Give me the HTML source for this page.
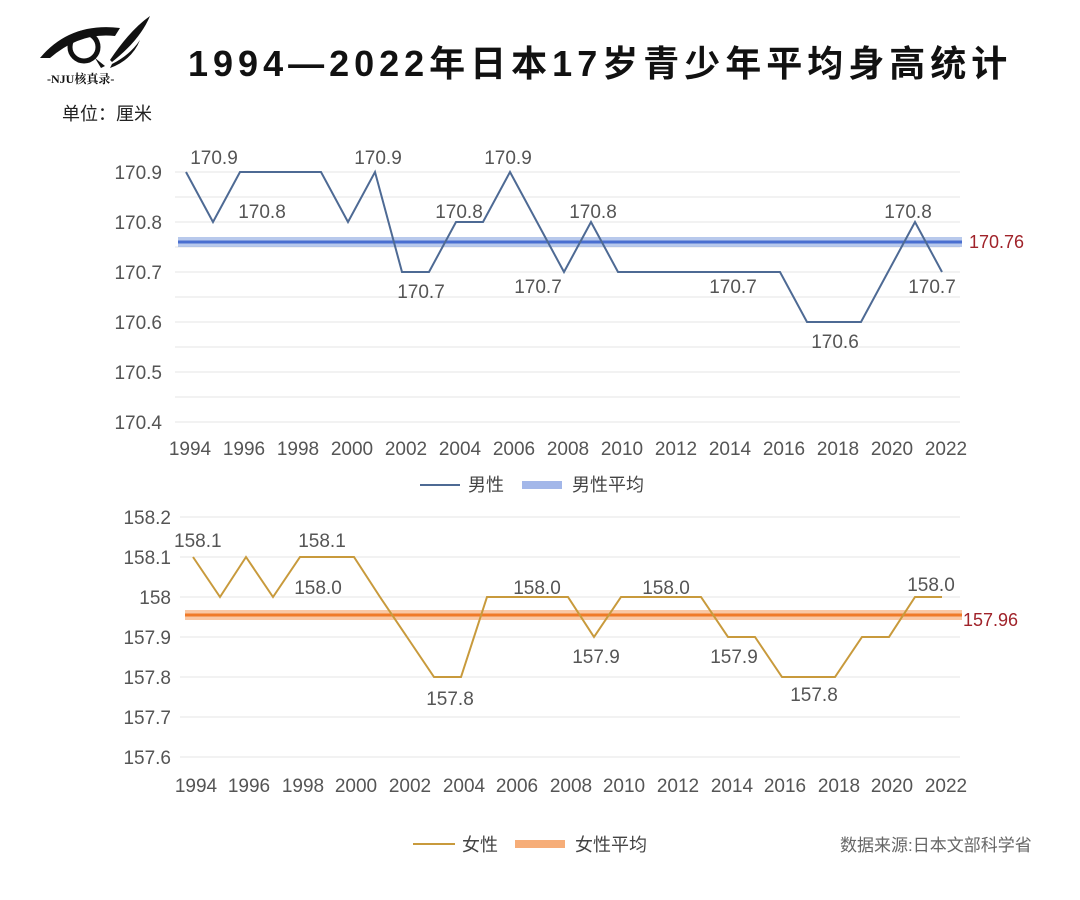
<!DOCTYPE html>
<html><head><meta charset="utf-8"><style>
body{margin:0;background:#fff;width:1080px;height:895px;overflow:hidden;font-family:"Liberation Sans","Noto Sans CJK SC",sans-serif}
</style></head><body>
<svg width="1080" height="895" xmlns="http://www.w3.org/2000/svg" font-family="Liberation Sans, Noto Sans CJK SC, sans-serif">
<rect width="1080" height="895" fill="#fff"/>
<g fill="#111">
<path d="M40 58 Q70 22 120 28 L115 36 Q80 32 50 58 Z"/>
<circle cx="84" cy="47" r="14" fill="none" stroke="#111" stroke-width="5"/>
<path d="M95 58 L105 66 L101 68 Z"/>
<path d="M110 60 Q130 30 150 16 Q140 40 112 62 Z"/>
<path d="M112 64 Q130 55 140 40 Q132 60 110 68 Z"/>
</g>
<text x="47" y="83" font-size="12" font-weight="bold" fill="#111" font-family="Liberation Serif, Noto Serif CJK SC, serif">-NJU核真录-</text>
<text x="62" y="120" font-size="18" fill="#222">单位：厘米</text>
<text x="188" y="76" font-size="36" font-weight="bold" fill="#111" letter-spacing="5">1994—2022年日本17岁青少年平均身高统计</text>
<g stroke="#e6e6e6" stroke-width="1">
<line x1="175" x2="960" y1="172" y2="172"/><line x1="175" x2="960" y1="197" y2="197"/>
<line x1="175" x2="960" y1="222" y2="222"/><line x1="175" x2="960" y1="247" y2="247"/>
<line x1="175" x2="960" y1="272" y2="272"/><line x1="175" x2="960" y1="297" y2="297"/>
<line x1="175" x2="960" y1="322" y2="322"/><line x1="175" x2="960" y1="347" y2="347"/>
<line x1="175" x2="960" y1="372" y2="372"/><line x1="175" x2="960" y1="397" y2="397"/>
<line x1="175" x2="960" y1="422" y2="422"/>
</g>
<g font-size="19" fill="#555" text-anchor="end">
<text x="162" y="179">170.9</text><text x="162" y="229">170.8</text><text x="162" y="279">170.7</text>
<text x="162" y="329">170.6</text><text x="162" y="379">170.5</text><text x="162" y="429">170.4</text>
</g>
<g font-size="19" fill="#555" text-anchor="middle">
<text x="190" y="455">1994</text><text x="244" y="455">1996</text><text x="298" y="455">1998</text><text x="352" y="455">2000</text><text x="406" y="455">2002</text><text x="460" y="455">2004</text><text x="514" y="455">2006</text><text x="568" y="455">2008</text><text x="622" y="455">2010</text><text x="676" y="455">2012</text><text x="730" y="455">2014</text><text x="784" y="455">2016</text><text x="838" y="455">2018</text><text x="892" y="455">2020</text><text x="946" y="455">2022</text>
</g>
<line x1="178" x2="962" y1="242" y2="242" stroke="#8aa6e0" stroke-width="10" opacity="0.6"/>
<line x1="178" x2="962" y1="242" y2="242" stroke="#4a6fd0" stroke-width="3"/>
<polyline fill="none" stroke="#4e6a94" stroke-width="2" points="186,172 213,222 240,172 267,172 294,172 321,172 348,222 375,172 402,272 429,272 456,222 483,222 510,172 537,222 564,272 591,222 618,272 645,272 672,272 699,272 726,272 753,272 780,272 807,322 834,322 861,322 888,272 915,222 942,272"/>
<g font-size="19" fill="#555" text-anchor="middle">
<text x="214" y="164">170.9</text><text x="262" y="218">170.8</text><text x="378" y="164">170.9</text>
<text x="421" y="298">170.7</text><text x="459" y="218">170.8</text><text x="508" y="164">170.9</text>
<text x="538" y="293">170.7</text><text x="593" y="218">170.8</text><text x="733" y="293">170.7</text>
<text x="835" y="348">170.6</text><text x="908" y="218">170.8</text><text x="932" y="293">170.7</text>
</g>
<text x="969" y="248" font-size="18" fill="#a0232a">170.76</text>
<line x1="420" x2="460" y1="485" y2="485" stroke="#4e6a94" stroke-width="2"/>
<text x="468" y="491" font-size="18" fill="#444">男性</text>
<line x1="522" x2="562" y1="485" y2="485" stroke="#7d99e0" stroke-width="8" opacity="0.7"/>
<text x="572" y="491" font-size="18" fill="#444">男性平均</text>
<g stroke="#e6e6e6" stroke-width="1">
<line x1="180" x2="960" y1="517" y2="517"/><line x1="180" x2="960" y1="557" y2="557"/>
<line x1="180" x2="960" y1="597" y2="597"/><line x1="180" x2="960" y1="637" y2="637"/>
<line x1="180" x2="960" y1="677" y2="677"/><line x1="180" x2="960" y1="717" y2="717"/>
<line x1="180" x2="960" y1="757" y2="757"/>
</g>
<g font-size="19" fill="#555" text-anchor="end">
<text x="171" y="524">158.2</text><text x="171" y="564">158.1</text><text x="171" y="604">158</text>
<text x="171" y="644">157.9</text><text x="171" y="684">157.8</text><text x="171" y="724">157.7</text><text x="171" y="764">157.6</text>
</g>
<g font-size="19" fill="#555" text-anchor="middle">
<text x="196" y="792">1994</text><text x="249" y="792">1996</text><text x="303" y="792">1998</text><text x="356" y="792">2000</text><text x="410" y="792">2002</text><text x="464" y="792">2004</text><text x="517" y="792">2006</text><text x="571" y="792">2008</text><text x="624" y="792">2010</text><text x="678" y="792">2012</text><text x="732" y="792">2014</text><text x="785" y="792">2016</text><text x="839" y="792">2018</text><text x="892" y="792">2020</text><text x="946" y="792">2022</text>
</g>
<line x1="185" x2="962" y1="615" y2="615" stroke="#f6a56a" stroke-width="10" opacity="0.6"/>
<line x1="185" x2="962" y1="615" y2="615" stroke="#f07a28" stroke-width="3"/>
<polyline fill="none" stroke="#c89a3c" stroke-width="2" points="193,557 220,597 246,557 273,597 300,557 327,557 354,557 380,597 407,637 434,677 461,677 487,597 514,597 541,597 568,597 594,637 621,597 648,597 675,597 701,597 728,637 755,637 782,677 808,677 835,677 862,637 889,637 915,597 942,597"/>
<g font-size="19" fill="#555" text-anchor="middle">
<text x="174" y="547" text-anchor="start">158.1</text><text x="322" y="547">158.1</text><text x="318" y="594">158.0</text>
<text x="450" y="705">157.8</text><text x="537" y="594">158.0</text><text x="596" y="663">157.9</text>
<text x="666" y="594">158.0</text><text x="734" y="663">157.9</text><text x="814" y="701">157.8</text><text x="931" y="591">158.0</text>
</g>
<text x="963" y="626" font-size="18" fill="#a0232a">157.96</text>
<line x1="413" x2="455" y1="844" y2="844" stroke="#c89a3c" stroke-width="2"/>
<text x="462" y="851" font-size="18" fill="#444">女性</text>
<line x1="515" x2="565" y1="844" y2="844" stroke="#f6a56a" stroke-width="8" opacity="0.9"/>
<text x="575" y="851" font-size="18" fill="#444">女性平均</text>
<text x="840" y="851" font-size="17" fill="#666">数据来源:日本文部科学省</text>
</svg>
</body></html>
